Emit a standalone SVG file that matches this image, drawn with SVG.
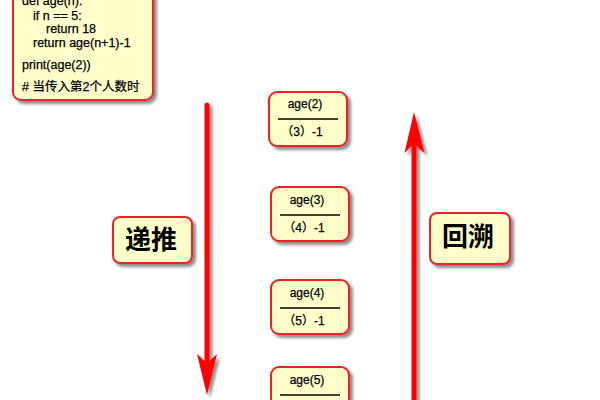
<svg xmlns="http://www.w3.org/2000/svg" width="600" height="400" viewBox="0 0 600 400">
<defs>
<filter id="sh" x="-30%" y="-10%" width="160%" height="130%">
<feGaussianBlur in="SourceAlpha" stdDeviation="1.5"/>
<feOffset dx="3" dy="3" result="b"/>
<feComponentTransfer><feFuncA type="linear" slope="0.45"/></feComponentTransfer>
<feMerge><feMergeNode/><feMergeNode in="SourceGraphic"/></feMerge>
</filter>
</defs>
<style>
.box{fill:#ffffcc;stroke:#ee2222;stroke-width:2;filter:url(#sh)}
.t{font-family:"Liberation Sans","Noto Sans CJK SC",sans-serif;fill:#000;stroke:#000;stroke-width:0.25}
.code{font-size:12.5px}
.nt{font-size:12px;text-anchor:middle}
.big{font-size:26px;font-weight:bold;text-anchor:middle;font-family:"Noto Sans CJK SC",sans-serif}
.arr{fill:#ff0000;filter:url(#sh)}
</style>
<rect width="600" height="400" fill="#ffffff"/>
<g id="code">
<rect class="box" x="13" y="-20" width="140" height="120" rx="8"/>
<text class="t code" x="22" y="5">def age(n):</text>
<text class="t code" x="33" y="20">if n ==  5:</text>
<text class="t code" x="46" y="33">return 18</text>
<text class="t code" x="33" y="47">return age(n+1)-1</text>
<text class="t code" x="22" y="69">print(age(2))</text>
<text class="t code" x="22" y="91"># 当传入第2个人数时</text>
</g>
<g id="n2">
<rect class="box" x="269" y="92" width="78" height="54" rx="8"/>
<text class="t nt" x="305" y="108">age(2)</text>
<line x1="278" y1="119" x2="338" y2="119" stroke="#000" stroke-width="1.5"/>
<text class="t nt" x="302" y="136">（3）-1</text>
</g>
<g id="n3">
<rect class="box" x="271" y="187" width="78" height="54" rx="8"/>
<text class="t nt" x="307" y="204">age(3)</text>
<line x1="280" y1="215" x2="340" y2="215" stroke="#000" stroke-width="1.5"/>
<text class="t nt" x="304" y="232">（4）-1</text>
</g>
<g id="n4">
<rect class="box" x="271" y="280" width="78" height="54" rx="8"/>
<text class="t nt" x="307" y="297">age(4)</text>
<line x1="280" y1="308" x2="340" y2="308" stroke="#000" stroke-width="1.5"/>
<text class="t nt" x="304" y="325">（5）-1</text>
</g>
<g id="n5">
<rect class="box" x="271" y="367" width="78" height="54" rx="8"/>
<text class="t nt" x="307" y="384">age(5)</text>
<line x1="280" y1="395" x2="340" y2="395" stroke="#000" stroke-width="1.5"/>
</g>
<g id="l1">
<rect class="box" x="113" y="217" width="79" height="46" rx="7"/>
<text class="big" x="151" y="249">递推</text>
</g>
<g id="l2">
<rect class="box" x="430" y="213" width="80" height="51" rx="7"/>
<text class="big" x="468" y="246">回溯</text>
</g>
<g id="connectors">
<path class="arr" d="M204.5,104 Q207,101 209.5,104 L209.5,361 L217,354 L207,395 L197,354 L204.5,361 Z"/>
<path class="arr" d="M411.5,402 L416.5,402 L416.5,146 L424.5,153 L414,112 L404.5,153 L411.5,146 Z"/>
</g>
</svg>
